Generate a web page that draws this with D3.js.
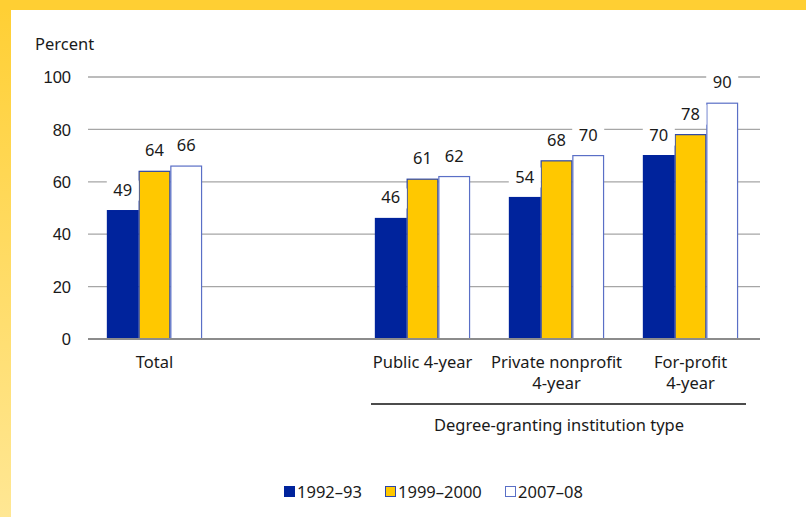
<!DOCTYPE html>
<html>
<head>
<meta charset="utf-8">
<script src="https://cdn.jsdelivr.net/npm/d3@7"></script>
<style>
  body { margin: 0; background: #fff; }
  svg { display: block; font-family: "Noto Sans", "Open Sans", sans-serif; }
</style>
</head>
<body>
<svg id="chart" width="806" height="517"></svg>
<script>
// chart data
const categories = ['Total', '', 'Public 4-year', 'Private nonprofit\n4-year', 'For-profit\n4-year'];
const seriesNames = ['1992\u201393', '1999\u20132000', '2007\u201308'];
const values1992 = [49, null, 46, 54, 70];
const values1999 = [64, null, 61, 68, 78];
const values2007 = [66, null, 62, 70, 90];
const yTicks = [0, 20, 40, 60, 80, 100];

const fills = ['#00239c', '#ffc800', '#ffffff'];
const strokes = ['#00239c', '#2b45a8', '#5a6fc6'];
const fs = 16.5;

const svg = d3.select('#chart');

// yellow frame
const defs = svg.append('defs');
const grad = defs.append('linearGradient').attr('id', 'sideGrad')
  .attr('x1', 0).attr('y1', 0).attr('x2', 0).attr('y2', 1);
grad.append('stop').attr('offset', '0%').attr('stop-color', '#ffcf33');
grad.append('stop').attr('offset', '100%').attr('stop-color', '#ffe794');
svg.append('rect').attr('x', 0).attr('y', 0).attr('width', 11).attr('height', 517).attr('fill', 'url(#sideGrad)');
svg.append('rect').attr('x', 0).attr('y', 0).attr('width', 806).attr('height', 10).attr('fill', '#ffcf33');

const x = d3.scaleBand().domain(categories).range([87.5, 757.5]).paddingInner(0.29).paddingOuter(0.145);
const xSub = d3.scaleBand().domain(seriesNames).range([0, x.bandwidth()]);
const y = d3.scaleLinear().domain([0, 100]).range([339, 77]);

// gridlines
svg.append('g')
  .selectAll('line')
  .data(yTicks.filter(d => d > 0))
  .join('line')
  .attr('x1', 88).attr('x2', 760)
  .attr('y1', d => y(d)).attr('y2', d => y(d))
  .attr('stroke', '#a6a6a6').attr('stroke-width', 1.3);

// y axis labels
const yAxis = d3.axisLeft(y).tickValues(yTicks).tickSize(0).tickPadding(0);
const yg = svg.append('g').attr('transform', 'translate(71,0)').call(yAxis);
yg.select('.domain').remove();
yg.selectAll('text').attr('font-size', fs).attr('fill', '#1a1a1a').attr('font-family', null).attr('dy', '0.35em');

svg.append('text').attr('x', 35).attr('y', 50).attr('font-size', fs).attr('fill', '#1a1a1a').text('Percent');

// bars
const rows = categories.map((c, i) => ({ cat: c, vals: [values1992[i], values1999[i], values2007[i]] }))
  .filter(d => d.vals[0] != null);

const groups = svg.append('g').selectAll('g')
  .data(rows)
  .join('g')
  .attr('transform', d => `translate(${x(d.cat)},0)`);

groups.selectAll('rect')
  .data(d => d.vals.map((v, k) => ({ v, k, s: seriesNames[k] })))
  .join('rect')
  .attr('x', d => xSub(d.s) + 0.5)
  .attr('y', d => y(d.v))
  .attr('width', xSub.bandwidth() - 1)
  .attr('height', d => y(0) - y(d.v))
  .attr('fill', d => fills[d.k])
  .attr('stroke', d => strokes[d.k])
  .attr('stroke-width', 1.2);

// value labels with white background cutting the gridlines
const labels = groups.selectAll('g.lbl')
  .data(d => d.vals.map((v, k) => ({ v, k, s: seriesNames[k] })))
  .join('g').attr('class', 'lbl')
  .attr('transform', d => `translate(${xSub(d.s) + xSub.bandwidth() / 2},${y(d.v) - 15})`);
labels.append('rect')
  .attr('x', -16).attr('y', -15).attr('width', 32).attr('height', 20).attr('fill', '#fff');
labels.append('text')
  .attr('text-anchor', 'middle').attr('font-size', fs).attr('fill', '#1a1a1a')
  .text(d => d.v);

// x axis baseline
svg.append('line').attr('x1', 88).attr('x2', 760).attr('y1', y(0)).attr('y2', y(0))
  .attr('stroke', '#8c8c8c').attr('stroke-width', 2);

// category labels
svg.append('g').selectAll('text')
  .data(categories.filter(c => c))
  .join('text')
  .attr('text-anchor', 'middle').attr('font-size', fs).attr('fill', '#1a1a1a')
  .attr('transform', d => `translate(${x(d) + x.bandwidth() / 2},368)`)
  .selectAll('tspan')
  .data(d => d.split('\n'))
  .join('tspan')
  .attr('x', 0).attr('dy', (d, i) => i === 0 ? 0 : 21)
  .text(d => d);

// grouping bracket
svg.append('line').attr('x1', 371).attr('x2', 746).attr('y1', 404).attr('y2', 404)
  .attr('stroke', '#111').attr('stroke-width', 1.5);
svg.append('text').attr('x', 559).attr('y', 431).attr('text-anchor', 'middle')
  .attr('font-size', fs).attr('fill', '#1a1a1a').text('Degree-granting institution type');

// legend
const legendX = [284, 385, 505];
const leg = svg.append('g').selectAll('g')
  .data(seriesNames)
  .join('g')
  .attr('transform', (d, i) => `translate(${legendX[i]},486)`);
leg.append('rect')
  .attr('x', 0.5).attr('y', 0.5).attr('width', 10).attr('height', 10)
  .attr('fill', (d, i) => fills[i]).attr('stroke', (d, i) => strokes[i]).attr('stroke-width', 1);
leg.append('text')
  .attr('x', 13).attr('y', 12).attr('font-size', fs).attr('fill', '#1a1a1a')
  .text(d => d);
</script>
</body>
</html>
